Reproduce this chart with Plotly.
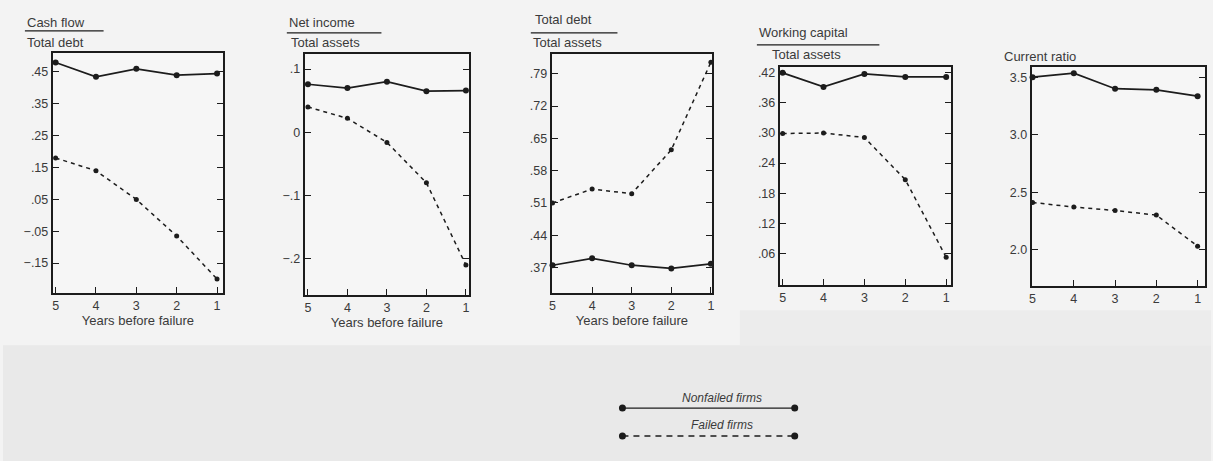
import plotly.graph_objects as go

# ---------------- data ----------------
years = [5, 4, 3, 2, 1]
year_labels = ["5", "4", "3", "2", "1"]

cf_td_nonfailed = [0.48, 0.435, 0.46, 0.44, 0.445]
cf_td_failed = [0.18, 0.14, 0.05, -0.065, -0.20]

ni_ta_nonfailed = [0.076, 0.07, 0.08, 0.065, 0.066]
ni_ta_failed = [0.04, 0.022, -0.016, -0.08, -0.21]

td_ta_nonfailed = [0.375, 0.39, 0.375, 0.368, 0.378]
td_ta_failed = [0.51, 0.54, 0.53, 0.625, 0.815]

wc_ta_nonfailed = [0.42, 0.392, 0.418, 0.412, 0.412]
wc_ta_failed = [0.299, 0.30, 0.291, 0.207, 0.052]

cr_nonfailed = [3.5, 3.535, 3.40, 3.39, 3.335]
cr_failed = [2.41, 2.37, 2.34, 2.30, 2.03]

cf_ticks = [0.45, 0.35, 0.25, 0.15, 0.05, -0.05, -0.15]
cf_ticktext = [".45", ".35", ".25", ".15", ".05", "\u2212.05", "\u2212.15"]
ni_ticks = [0.1, 0.0, -0.1, -0.2]
ni_ticktext = [".1", "0", "\u2212.1", "\u2212.2"]
td_ticks = [0.79, 0.72, 0.65, 0.58, 0.51, 0.44, 0.37]
td_ticktext = [".79", ".72", ".65", ".58", ".51", ".44", ".37"]
wc_ticks = [0.42, 0.36, 0.30, 0.24, 0.18, 0.12, 0.06]
wc_ticktext = [".42", ".36", ".30", ".24", ".18", ".12", ".06"]
cr_ticks = [3.5, 3.0, 2.5, 2.0]
cr_ticktext = ["3.5", "3.0", "2.5", "2.0"]

# ---------------- layout helpers ----------------
W, H = 1213, 461
def px(x):
    return x / W
def py(y):
    return 1 - y / H

INK = "#1c1c1c"
TXT = "#3a3a3a"
FONT = "Liberation Sans"

panels = [
    dict(nf=cf_td_nonfailed, f=cf_td_failed, box=(50, 221, 52, 293), xr=[5.07, 0.85],
         yr=[-0.245, 0.51], tv=cf_ticks, tt=cf_ticktext, xtitle=True),
    dict(nf=ni_ta_nonfailed, f=ni_ta_failed, box=(303, 468, 53, 295), xr=[5.08, 0.92],
         yr=[-0.258, 0.124], tv=ni_ticks, tt=ni_ticktext, xtitle=True),
    dict(nf=td_ta_nonfailed, f=td_ta_failed, box=(551, 712, 53, 293), xr=[5.02, 0.97],
         yr=[0.314, 0.833], tv=td_ticks, tt=td_ticktext, xtitle=True),
    dict(nf=wc_ta_nonfailed, f=wc_ta_failed, box=(780, 952, 66, 285), xr=[5.07, 0.88],
         yr=[-0.004, 0.432], tv=wc_ticks, tt=wc_ticktext, xtitle=False),
    dict(nf=cr_nonfailed, f=cr_failed, box=(1033, 1207, 66, 286), xr=[5.02, 0.82],
         yr=[1.68, 3.59], tv=cr_ticks, tt=cr_ticktext, xtitle=False),
]

fig = go.Figure()
layout = {}
for i, p in enumerate(panels, start=1):
    xa = "x" if i == 1 else f"x{i}"
    ya = "y" if i == 1 else f"y{i}"
    fig.add_trace(go.Scatter(
        x=years, y=p["nf"], xaxis=xa, yaxis=ya, mode="lines+markers",
        line=dict(color=INK, width=1.7), marker=dict(size=6, color=INK),
        showlegend=False, cliponaxis=False))
    fig.add_trace(go.Scatter(
        x=years, y=p["f"], xaxis=xa, yaxis=ya, mode="lines+markers",
        line=dict(color=INK, width=1.5, dash="4px,4px"), marker=dict(size=5, color=INK),
        showlegend=False, cliponaxis=False))
    l, r, t, b = p["box"]
    xkey = "xaxis" if i == 1 else f"xaxis{i}"
    ykey = "yaxis" if i == 1 else f"yaxis{i}"
    layout[xkey] = dict(
        domain=[px(l), px(r)], range=p["xr"], anchor=ya,
        tickmode="array", tickvals=years, ticktext=year_labels,
        ticks="inside", ticklen=6, tickwidth=1, tickcolor=INK,
        showline=True, linecolor=INK, linewidth=2, mirror=True,
        showgrid=False, zeroline=False,
        tickfont=dict(family=FONT, size=12.5, color=TXT),
        title=dict(text="Years before failure" if p["xtitle"] else "",
                   font=dict(family=FONT, size=13, color=TXT), standoff=4),
    )
    layout[ykey] = dict(
        domain=[py(b), py(t)], range=p["yr"], anchor=xa,
        tickmode="array", tickvals=p["tv"], ticktext=p["tt"],
        ticks="inside", ticklen=6, tickwidth=1, tickcolor=INK,
        showline=True, linecolor=INK, linewidth=2, mirror="ticks",
        showgrid=False, zeroline=False,
        tickfont=dict(family=FONT, size=12.5, color=TXT),
    )

# ---------------- titles (ratio fractions) ----------------
annotations = []
shapes = []
def text(x, y, s, size=13, anchor="left", italic=False):
    annotations.append(dict(
        x=px(x), y=py(y), xref="paper", yref="paper", xanchor=anchor, yanchor="middle",
        text=(f"<i>{s}</i>" if italic else s), showarrow=False,
        font=dict(family=FONT, size=size, color=TXT)))
def hline(x0, x1, y, width=1.2, dash="solid"):
    shapes.append(dict(type="line", xref="paper", yref="paper",
                       x0=px(x0), x1=px(x1), y0=py(y), y1=py(y),
                       line=dict(color=INK, width=width, dash=dash)))

text(22, 22, "Cash flow")
hline(22, 101, 30)
text(22, 42, "Total debt")

text(285, 22, "Net income")
hline(285, 380, 32)
text(287, 42, "Total assets")

text(532, 19, "Total debt")
hline(530, 617, 32)
text(530, 42, "Total assets")

text(757, 32, "Working capital")
hline(757, 880, 44)
text(770, 54, "Total assets")

text(1003, 56, "Current ratio")

# ---------------- legend ----------------
text(722, 398, "Nonfailed firms", size=12, anchor="center", italic=True)
hline(622, 795, 408, width=1.4)
text(722, 425, "Failed firms", size=12, anchor="center", italic=True)
hline(622, 795, 436, width=1.4, dash="6px,5px")
for (cx, cy) in [(622, 408), (795, 408), (622, 436), (795, 436)]:
    shapes.append(dict(type="circle", xref="paper", yref="paper",
                       xsizemode="pixel", ysizemode="pixel",
                       xanchor=px(cx), yanchor=py(cy), x0=-3.5, x1=3.5, y0=-3.5, y1=3.5,
                       fillcolor=INK, line=dict(color=INK, width=0)))

# scanned-page background: lighter upper band, greyer lower band
shapes.append(dict(type="rect", xref="paper", yref="paper", x0=0, x1=1,
                   y0=0, y1=py(345), fillcolor="#e9e9e9", line=dict(width=0),
                   layer="below"))
shapes.append(dict(type="rect", xref="paper", yref="paper", x0=px(740), x1=1,
                   y0=py(345), y1=py(310), fillcolor="#ececec", line=dict(width=0),
                   layer="below"))

fig.update_layout(
    width=W, height=H, margin=dict(l=0, r=0, t=0, b=0),
    paper_bgcolor="#f3f3f3", plot_bgcolor="#f6f6f6",
    annotations=annotations, shapes=shapes, showlegend=False,
    **layout,
)

fig.write_html("out.html", config={"displayModeBar": False},
               post_script="document.body.style.margin='0px';")
